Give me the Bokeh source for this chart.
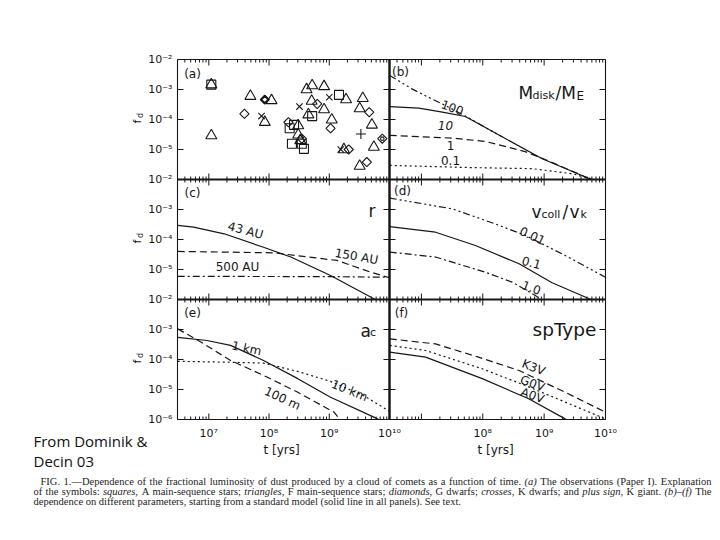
import math
from bokeh.plotting import figure
from bokeh.models import Range1d, LogScale
from bokeh.embed import file_html
from bokeh.resources import INLINE
from bokeh.core.properties import value

# ---------------- data ----------------
T_MIN, T_MAX = 3.02e6, 1.0e10          # time axis domain [yr]
FD_MIN, FD_MAX = 1.0e-6, 1.0e-2        # f_d axis domain

x_major = [1e7, 1e8, 1e9, 1e10]
x_major_labels = ["10⁷", "10⁸", "10⁹", "10¹⁰"]
y_major = [1e-2, 1e-3, 1e-4, 1e-5, 1e-6]
y_major_labels = ["10⁻²", "10⁻³", "10⁻⁴", "10⁻⁵", "10⁻⁶"]

# (a) observations
sq_t = [1.1e7, 2.2e8, 2.6e8, 2.4e8, 3.5e8, 3.8e8, 5.2e8, 1.45e9]
sq_fd = [1.45e-3, 5.1e-5, 6.6e-5, 1.55e-5, 1.55e-5, 1.05e-5, 1.3e-4, 6.6e-4]
tri_t = [1.1e7, 1.1e7, 4.9e7, 1.1e8, 8.5e7, 4.2e8, 5.2e8, 8.2e8, 5.1e8, 8.2e8, 4.5e8,
         1.1e9, 1.9e9, 3.05e8, 3.05e8, 3.3e8, 1.75e9, 3.6e9, 3.2e9, 5.1e9, 5.5e9, 3.2e9]
tri_fd = [1.45e-3, 2.9e-5, 6.0e-4, 4.3e-4, 8.1e-5, 1.0e-3, 1.35e-3, 1.26e-3, 4.1e-4, 2.15e-4, 1.45e-4,
          9.8e-5, 4.6e-4, 6.3e-5, 3.1e-5, 2.0e-5, 1.0e-5, 5.1e-4, 2.3e-4, 6.6e-5, 1.2e-5, 2.8e-6]
dia_t = [3.9e7, 8.5e7, 6.3e8, 2.1e8, 1.05e9, 2.1e9, 4.6e9, 7.6e9, 4.2e9, 3.5e8]
dia_fd = [1.55e-4, 4.6e-4, 3.3e-4, 8.1e-5, 5.1e-5, 1.0e-5, 1.75e-4, 2.3e-5, 3.8e-6, 2.3e-5]
crs_t = [7.5e7, 3.2e8, 1.0e9, 1.55e9]
crs_fd = [1.3e-4, 2.7e-4, 5.5e-4, 1.0e-5]
plus_t = [3.35e9]
plus_fd = [3.3e-5]

# (b) disk mass M_disk/M_E
b100_t = [3.05e6, 7.0e6, 1.3e7, 2.2e7, 5.2e7, 2.1e8]
b100_fd = [2.95e-3, 1.05e-3, 5.5e-4, 3.3e-4, 1.3e-4, 2.6e-5]
b10_t = [3.05e6, 9.1e6, 2.2e7, 5.2e7, 2.1e8, 9.3e8, 5.9e9]
b10_fd = [2.7e-4, 2.4e-4, 1.75e-4, 1.26e-4, 2.6e-5, 4.9e-6, 1.0e-6]
b1_t = [3.05e6, 3.2e7, 1.1e8, 4.9e8, 9.3e8, 5.9e9]
b1_fd = [2.95e-5, 2.4e-5, 1.86e-5, 8.5e-6, 5.1e-6, 1.0e-6]
b01_t = [3.05e6, 6.3e7, 6.3e8, 2.9e9, 6.5e9]
b01_fd = [2.95e-6, 2.5e-6, 2.3e-6, 1.55e-6, 1.0e-6]

# (c) distance r
c43_t = [3.05e6, 5.6e6, 1.8e7, 8.1e7, 2.3e8, 1.05e9, 5.8e9]
c43_fd = [2.95e-4, 2.6e-4, 1.55e-4, 5.5e-5, 2.6e-5, 6.3e-6, 1.0e-6]
c150_t = [3.05e6, 1.2e8, 1.35e9, 4.9e9, 1.0e10]
c150_fd = [4.0e-5, 3.6e-5, 2.0e-5, 8.1e-6, 5.3e-6]
c500_t = [3.05e6, 1.0e9, 1.0e10]
c500_fd = [5.9e-6, 5.8e-6, 5.5e-6]

# (d) v_coll / v_k
d001_t = [3.05e6, 3.2e7, 1.6e8, 5.0e8, 2.2e9, 1.0e10]
d001_fd = [2.4e-3, 1.05e-3, 3.3e-4, 1.35e-4, 2.95e-5, 5.5e-6]
d01_t = [3.05e6, 1.7e7, 7.6e7, 3.9e8, 1.35e9, 5.8e9]
d01_fd = [2.7e-4, 1.75e-4, 6.3e-5, 1.55e-5, 3.6e-6, 1.0e-6]
d10_t = [3.05e6, 1.7e7, 1.1e8, 3.0e8, 7.2e8, 8.8e8]
d10_fd = [3.8e-5, 2.6e-5, 8.1e-6, 3.8e-6, 1.35e-6, 1.0e-6]

# (e) comet size a_c
e1_t = [3.05e6, 9.3e6, 2.3e7, 8.1e7, 3.0e8, 1.05e9, 5.5e9, 6.6e9]
e1_fd = [5.5e-4, 4.3e-4, 2.95e-4, 9.3e-5, 2.3e-5, 5.5e-6, 1.2e-6, 1.0e-6]
e100_t = [3.05e6, 8.3e6, 2.3e7, 8.1e7, 3.0e8, 1.2e9, 1.5e9]
e100_fd = [1.05e-3, 3.3e-4, 9.3e-5, 2.95e-5, 8.1e-6, 1.75e-6, 1.0e-6]
e10_t = [3.05e6, 2.3e7, 8.1e7, 3.0e8, 1.05e9, 3.7e9, 9.5e9, 1.0e10]
e10_fd = [8.7e-5, 8.1e-5, 7.6e-5, 4.0e-5, 1.86e-5, 6.3e-6, 2.0e-6, 1.85e-6]

# (f) spectral type
fK_t = [3.05e6, 1.7e7, 8.5e7, 3.9e8, 2.2e9, 1.0e10]
fK_fd = [4.9e-4, 3.3e-4, 1.2e-4, 4.3e-5, 8.1e-6, 1.75e-6]
fG_t = [3.05e6, 1.17e7, 9.8e7, 5.0e8, 2.2e9, 1.0e10]
fG_fd = [2.95e-4, 2.0e-4, 4.9e-5, 1.35e-5, 3.8e-6, 1.05e-6]
fA_t = [3.05e6, 1.17e7, 9.8e7, 5.6e8, 2.2e9, 2.3e9]
fA_fd = [1.75e-4, 1.2e-4, 2.3e-5, 4.9e-6, 1.05e-6, 1.0e-6]

caption_lines = [
    [("FIG. 1.—Dependence of the fractional luminosity of dust produced by a cloud of comets as a function of time.", False),
     ("(a)", True), ("The observations (Paper I). Explanation", False)],
    [("of the symbols:", False), ("squares,", True), ("A main-sequence stars;", False), ("triangles,", True),
     ("F main-sequence stars;", False), ("diamonds,", True), ("G dwarfs;", False), ("crosses,", True),
     ("K dwarfs; and", False), ("plus sign,", True), ("K giant.", False), ("(b)–(f)", True), ("The", False)],
    [("dependence on different parameters, starting from a standard model (solid line in all panels). See text.", False)],
]

# ---------------- layout (page pixel geometry) ----------------
PAGE_L, PAGE_R, PAGE_T, PAGE_B = 0, 720, 0, 540
COLS = {"L": (177, 389), "R": (389, 605)}
ROWS = {"r0": (59, 179), "r1": (179, 299), "r2": (299, 419)}
INK = "#161616"
SANS = "DejaVu Sans"

p = figure(width=PAGE_R - PAGE_L, height=PAGE_B - PAGE_T, output_backend="svg",
           toolbar_location=None, x_range=Range1d(PAGE_L, PAGE_R), y_range=Range1d(PAGE_B, PAGE_T),
           x_axis_location=None, y_axis_location=None, min_border=0,
           outline_line_color=None, background_fill_color="white", border_fill_color="white")
p.grid.visible = False

lx0, lx1 = math.log10(T_MIN), math.log10(T_MAX)
ly0, ly1 = math.log10(FD_MIN), math.log10(FD_MAX)
xr, xs, yr, ys = {}, {}, {}, {}
for name, (L, R) in COLS.items():
    k = (lx1 - lx0) / (R - L)
    xr[name] = Range1d(10 ** (lx0 - (L - PAGE_L) * k), 10 ** (lx1 + (PAGE_R - R) * k))
    xs[name] = LogScale()
for name, (T, B) in ROWS.items():
    k = (ly1 - ly0) / (B - T)
    yr[name] = Range1d(10 ** (ly0 - (PAGE_B - B) * k), 10 ** (ly1 + (T - PAGE_T) * k))
    ys[name] = LogScale()
p.extra_x_ranges = xr
p.extra_x_scales = xs
p.extra_y_ranges = yr
p.extra_y_scales = ys

minor = [m * 10 ** d for d in range(6, 10) for m in range(2, 10) if T_MIN < m * 10 ** d < T_MAX]


def panel(cx, ry):
    kw = dict(x_range_name=cx, y_range_name=ry, line_color=INK)
    p.quad(left=[T_MIN], right=[T_MAX], bottom=[FD_MIN], top=[FD_MAX], fill_color=None, line_width=1.1, **kw)
    xm = x_major[:-1]
    for (vals, ln) in ((xm, 6), (minor, 3)):
        p.ray(x=vals, y=[FD_MIN] * len(vals), length=ln, length_units="screen", angle=math.pi / 2, line_width=1, **kw)
        p.ray(x=vals, y=[FD_MAX] * len(vals), length=ln, length_units="screen", angle=-math.pi / 2, line_width=1, **kw)
    ym = y_major[1:-1]
    p.ray(x=[T_MIN] * len(ym), y=ym, length=6, length_units="screen", angle=0, line_width=1, **kw)
    p.ray(x=[T_MAX] * len(ym), y=ym, length=6, length_units="screen", angle=math.pi, line_width=1, **kw)


for cx in COLS:
    for ry in ROWS:
        panel(cx, ry)

# thick inner dividers
for ry in ROWS:
    p.segment(x0=[T_MAX], x1=[T_MAX], y0=[FD_MIN], y1=[FD_MAX], x_range_name="L", y_range_name=ry,
              line_color=INK, line_width=2.4)
for cx in COLS:
    for ry in ("r0", "r1"):
        p.segment(x0=[T_MIN], x1=[T_MAX], y0=[FD_MIN], y1=[FD_MIN], x_range_name=cx, y_range_name=ry,
                  line_color=INK, line_width=2.2)

DASH = {"solid": "solid", "dashed": "7 4", "dotted": "2 3", "dashdot": "7 3 2 3",
        "dash3dot": "7 3 2 3 2 3 2 3"}


def curve(t, fd, style, cx, ry):
    p.line(t, fd, line_color=INK, line_width=1.2, line_dash=DASH[style], x_range_name=cx, y_range_name=ry)


# (a) markers
mk = dict(x_range_name="L", y_range_name="r0", fill_color=None, line_color=INK, line_width=1.1)
p.scatter(sq_t, sq_fd, marker="square", size=9, **mk)
p.scatter(tri_t, tri_fd, marker="triangle", size=11, **mk)
p.scatter(dia_t, dia_fd, marker="square", angle=math.pi / 4, size=6.5, **mk)
p.scatter(dia_t[1:2], dia_fd[1:2], marker="square", angle=math.pi / 4, size=5, x_range_name="L",
          y_range_name="r0", fill_color=None, line_color=INK, line_width=2)
p.scatter(dia_t[7:8], dia_fd[7:8], marker="circle", size=3.5, **mk)
p.scatter(crs_t, crs_fd, marker="x", size=9, **mk)
p.scatter(plus_t, plus_fd, marker="cross", size=10, **mk)

# (b)
curve(b100_t, b100_fd, "dash3dot", "R", "r0")
curve(b10_t, b10_fd, "solid", "R", "r0")
curve(b1_t, b1_fd, "dashed", "R", "r0")
curve(b01_t, b01_fd, "dotted", "R", "r0")
# (c)
curve(c43_t, c43_fd, "solid", "L", "r1")
curve(c150_t, c150_fd, "dashed", "L", "r1")
curve(c500_t, c500_fd, "dashdot", "L", "r1")
# (d)
curve(d001_t, d001_fd, "dash3dot", "R", "r1")
curve(d01_t, d01_fd, "solid", "R", "r1")
curve(d10_t, d10_fd, "dashdot", "R", "r1")
# (e)
curve(e1_t, e1_fd, "solid", "L", "r2")
curve(e100_t, e100_fd, "dashed", "L", "r2")
curve(e10_t, e10_fd, "dotted", "L", "r2")
# (f)
curve(fK_t, fK_fd, "dashed", "R", "r2")
curve(fG_t, fG_fd, "dotted", "R", "r2")
curve(fA_t, fA_fd, "solid", "R", "r2")


def txt(x, y, s, size=12, align="center", base="middle", angle=0.0, font=SANS, style="normal", color=INK, **kw):
    p.text(x=[x], y=[y], text=[s], text_font=value(font), text_font_size=f"{size}px", text_align=align,
           text_baseline=base, angle=math.radians(angle), text_font_style=style, text_color=color, **kw)


# tick labels
for ry in ROWS:
    labs = list(zip(y_major, y_major_labels))
    if ry != "r2":
        labs = labs[:-1]
    p.text(x=[172] * len(labs), y=[v for v, _ in labs], text=[s for _, s in labs], y_range_name=ry,
           text_font=value(SANS), text_font_size="11px", text_align="right", text_baseline="middle",
           text_color=INK)
p.text(x=x_major, y=[433] * 4, text=x_major_labels, x_range_name="L", text_font=value(SANS),
       text_font_size="11px", text_align="center", text_baseline="middle", text_color=INK)
p.text(x=x_major[1:], y=[433] * 3, text=x_major_labels[1:], x_range_name="R", text_font=value(SANS),
       text_font_size="11px", text_align="center", text_baseline="middle", text_color=INK)
txt(283, 449, "t  [yrs]", 12)
txt(497, 449, "t  [yrs]", 12)
for yc in (119, 239, 359):
    txt(137, yc + 2, "f", 11, angle=90)
    txt(140, yc - 4, "d", 8, angle=90)

# panel tags
for (x, y, s) in ((192, 73, "(a)"), (400, 71, "(b)"), (192, 192, "(c)"), (402, 190, "(d)"),
                  (192, 312, "(e)"), (401, 312, "(f)")):
    txt(x, y, s, 12)

# panel parameter titles
txt(518, 92, "M", 17, align="left", base="alphabetic")
txt(532, 95, "disk", 11, align="left", base="alphabetic")
txt(555, 92, "/M", 17, align="left", base="alphabetic")
txt(576, 95, "E", 12, align="left", base="alphabetic")
txt(368, 210, "r", 17, align="left", base="alphabetic")
txt(531, 211.5, "v", 17, align="left", base="alphabetic")
txt(541, 214, "coll", 11, align="left", base="alphabetic")
txt(562, 211.5, "/", 17, align="left", base="alphabetic")
txt(569, 211.5, "v", 17, align="left", base="alphabetic")
txt(580, 214, "k", 11, align="left", base="alphabetic")
txt(360, 330, "a", 17, align="left", base="alphabetic")
txt(369.5, 332, "c", 11, align="left", base="alphabetic")
txt(532, 329, "spType", 18.5, align="left", base="alphabetic")

# curve labels
for (x, y, s, a, st) in ((452, 107, "100", -20, "normal"), (445, 125, "10", 0, "italic"),
                         (450, 145, "1", 0, "normal"), (450, 160, "0.1", 0, "normal"),
                         (245, 230, "43 AU", -15, "normal"), (356, 256, "150 AU", -10, "normal"),
                         (237, 266, "500 AU", 0, "normal"),
                         (532, 235, "0.01", -25, "normal"), (531, 262, "0.1", -15, "normal"),
                         (531, 287, "1.0", -20, "normal"),
                         (246, 348, "1 km", -12, "normal"), (349, 390, "10 km", -22, "normal"),
                         (282, 398, "100 m", -25, "normal"),
                         (533, 367, "K3V", -22, "normal"), (532, 383, "G0V", -20, "normal"),
                         (532, 395, "A0V", -20, "normal")):
    txt(x, y, s, 12, angle=a, style=st)

# side note
txt(33, 440, "From Dominik &", 15, align="left", base="alphabetic", font="Open Sans", color="#111")
txt(33, 460, "Decin 03", 15, align="left", base="alphabetic", font="Open Sans", color="#111")

# caption (justified, word by word)
TIMES = {" ": 250, "!": 333, "(": 333, ")": 333, ",": 250, "-": 333, ".": 250, "/": 278, ":": 278, ";": 278,
         "—": 1000, "–": 500,
         "A": 722, "B": 667, "C": 667, "D": 722, "E": 611, "F": 556, "G": 722, "H": 722, "I": 333, "J": 389,
         "K": 722, "L": 611, "M": 889, "N": 722, "O": 722, "P": 556, "Q": 722, "R": 667, "S": 556, "T": 611,
         "U": 722, "V": 722, "W": 944, "X": 722, "Y": 722, "Z": 611,
         "a": 444, "b": 500, "c": 444, "d": 500, "e": 444, "f": 333, "g": 500, "h": 500, "i": 278, "j": 278,
         "k": 500, "l": 278, "m": 778, "n": 500, "o": 500, "p": 500, "q": 500, "r": 333, "s": 389, "t": 278,
         "u": 500, "v": 500, "w": 722, "x": 500, "y": 500, "z": 444}
TIMES_IT = {"a": 500, "m": 722, "r": 389, "f": 278, "(": 333, ")": 333}
CAP_FS = 10.5


def wwidth(s, it):
    return sum((TIMES_IT.get(c, TIMES.get(c, 500)) if it else TIMES.get(c, 500)) for c in s) * CAP_FS / 1000


cap_geom = [(40, 711, 481, True), (33, 711, 491, True), (33, None, 500.5, False)]
for line, (x0, x1, yb, just) in zip(caption_lines, cap_geom):
    words = [(w, it) for seg, it in line for w in seg.split(" ")]
    widths = [wwidth(w, it) for w, it in words]
    gap = (x1 - x0 - sum(widths)) / (len(words) - 1) if just else 0.25 * CAP_FS
    x = x0
    for (w, it), wd in zip(words, widths):
        p.text(x=[x], y=[yb], text=[w], text_font=value("Liberation Serif"), text_font_size=f"{CAP_FS}px",
               text_align="left", text_baseline="alphabetic", text_color="#222",
               text_font_style="italic" if it else "normal")
        x += wd + gap

open("out.html", "w").write(file_html(p, INLINE))
